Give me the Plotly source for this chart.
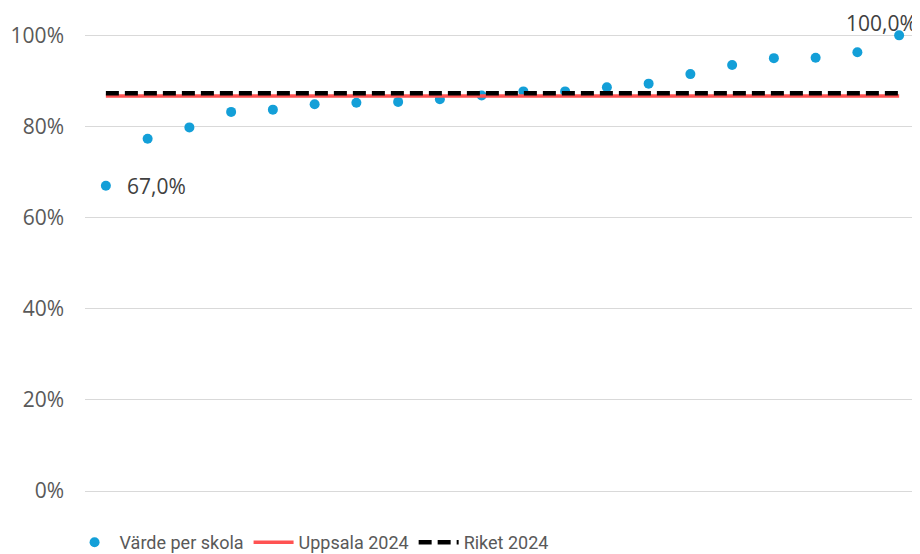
import plotly.graph_objects as go

# skolor sorterade efter andel
skolor = [f"Skola {i}" for i in range(1, 21)]
varde_per_skola = [0.670, 0.773, 0.798, 0.832, 0.837, 0.849, 0.852, 0.854, 0.860, 0.868,
                   0.877, 0.877, 0.886, 0.894, 0.915, 0.935, 0.950, 0.951, 0.963, 1.000]
uppsala_2024 = 0.867
riket_2024 = 0.873

blue = "#139FD8"
red = "#FF5252"
grey_text = "#595959"
label_text = "#404040"

fig = go.Figure()

fig.add_trace(go.Scatter(
    x=skolor, y=varde_per_skola, mode="markers", name="Värde per skola",
    marker=dict(color=blue, size=10), cliponaxis=False,
))
fig.add_trace(go.Scatter(
    x=skolor, y=[uppsala_2024] * len(skolor), mode="lines", name="Uppsala 2024",
    line=dict(color=red, width=3.5),
))
fig.add_trace(go.Scatter(
    x=skolor, y=[riket_2024] * len(skolor), mode="lines", name="Riket 2024",
    line=dict(color="black", width=4.5, dash="13px,6px"),
))

# dataetiketter för min och max
fig.add_annotation(x=skolor[0], y=varde_per_skola[0], text="67,0%", showarrow=False,
                   xanchor="left", xshift=19, font=dict(size=21, color=label_text))
fig.add_annotation(x=skolor[-1], y=varde_per_skola[-1], text="100,0%", showarrow=False,
                   xanchor="left", yanchor="middle", xshift=-55, yshift=12,
                   font=dict(size=21, color=label_text))

# sidan lägger 8 px marginal runt figuren; figuren görs lite högre så att
# legenden hamnar längst ner i fönstret
fig.update_layout(
    width=912, height=553,
    margin=dict(l=77, r=0, t=26, b=70),
    plot_bgcolor="white", paper_bgcolor="white",
    font=dict(family="Open Sans", color=grey_text),
    showlegend=True,
    legend=dict(orientation="h", xref="container", x=0.0675, xanchor="left",
                yref="container", y=0.0, yanchor="bottom",
                font=dict(family="Roboto", size=18, color=grey_text),
                itemwidth=40),
    xaxis=dict(showticklabels=False, showgrid=False, zeroline=False, showline=False,
               range=[-0.5, 19.5]),
    yaxis=dict(range=[0, 1.003], tickvals=[0, 0.2, 0.4, 0.6, 0.8, 1.0],
               ticktext=["0%", "20%", "40%", "60%", "80%", "100%"],
               tickfont=dict(size=21, color=grey_text),
               showgrid=True, gridcolor="#D9D9D9", gridwidth=1,
               zeroline=True, zerolinecolor="#D9D9D9", zerolinewidth=1,
               showline=False, ticks="", ticklabelstandoff=20),
)

fig.write_html("out.html")
